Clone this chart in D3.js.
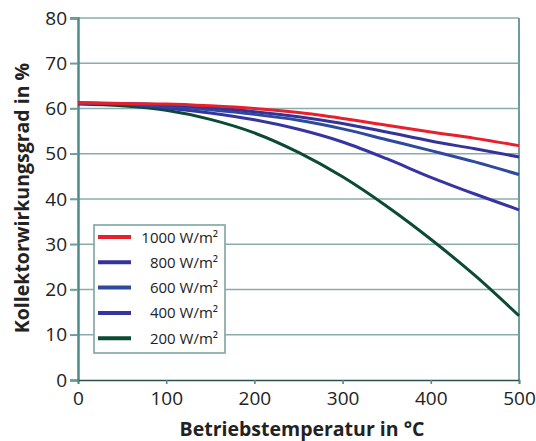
<!DOCTYPE html>
<html>
<head>
<meta charset="utf-8">
<script src="https://cdn.jsdelivr.net/npm/d3@7"></script>
<style>
  body { margin: 0; background: #fff; }
  svg text { font-family: "Open Sans", "Noto Sans", sans-serif; fill: #222; }
</style>
</head>
<body>
<svg id="chart" width="536" height="441"></svg>
<script>
// values, every 50 °C
var temps = [ 0, 50, 100, 150, 200, 250, 300, 350, 400, 450, 500 ];
var r1000 = [ 61.2, 61.1, 61.0, 60.6, 60.0, 59.1, 57.8, 56.3, 54.8, 53.4, 51.8 ];
var r800  = [ 61.2, 61.1, 60.8, 60.2, 59.3, 58.2, 56.7, 54.8, 52.8, 51.1, 49.3 ];
var r600  = [ 61.2, 61.0, 60.5, 59.7, 58.7, 57.4, 55.5, 53.1, 50.7, 48.2, 45.4 ];
var r400  = [ 61.2, 61.0, 60.1, 59.0, 57.5, 55.4, 52.6, 48.9, 44.8, 41.1, 37.6 ];
var r200  = [ 61.0, 60.6, 59.6, 57.6, 54.6, 50.3, 44.9, 38.4, 31.1, 23.1, 14.2 ];

var seriesNames = [ '1000 W/m²', '800 W/m²', '600 W/m²', '400 W/m²', '200 W/m²' ];
var seriesValues = [ r1000, r800, r600, r400, r200 ];
var seriesColors = [ '#e8202c', '#34339a', '#2d4a9e', '#3634a2', '#0b4a33' ];

var xTicks = [ 0, 100, 200, 300, 400, 500 ];
var yTicks = [ 0, 10, 20, 30, 40, 50, 60, 70, 80 ];

var svg = d3.select( '#chart' );

var x = d3.scaleLinear().domain( [ 0, 500 ] ).range( [ 78, 519 ] );
var y = d3.scaleLinear().domain( [ 0, 80 ] ).range( [ 380, 18 ] );

// gridlines
svg.append( 'g' )
    .selectAll( 'line' )
    .data( yTicks.filter( function( d ) { return d > 0; } ) )
    .enter().append( 'line' )
        .attr( 'x1', 70 )
        .attr( 'x2', x( 500 ) )
        .attr( 'y1', function( d ) { return y( d ); } )
        .attr( 'y2', function( d ) { return y( d ); } )
        .style( 'stroke', '#8aabab' )
        .style( 'stroke-width', 1.6 );

// right frame
svg.append( 'line' )
    .attr( 'x1', x( 500 ) ).attr( 'x2', x( 500 ) )
    .attr( 'y1', y( 80 ) ).attr( 'y2', y( 0 ) )
    .style( 'stroke', '#6f9c9c' )
    .style( 'stroke-width', 2 );

// left axis
var yAxis = svg.append( 'g' )
    .attr( 'transform', 'translate(' + x( 0 ) + ',0)' )
    .call( d3.axisLeft( y ).tickValues( yTicks ).tickSize( 8 ).tickPadding( 3 ) );
yAxis.select( '.domain' ).style( 'stroke', '#4f8a8a' ).style( 'stroke-width', 2.5 );
yAxis.selectAll( '.tick line' ).style( 'stroke', '#6f9c9c' ).style( 'stroke-width', 1.6 );
yAxis.selectAll( 'text' ).style( 'font-size', '19px' ).style( 'fill', '#222' );

// bottom axis
var xAxis = svg.append( 'g' )
    .attr( 'transform', 'translate(0,' + y( 0 ) + ')' )
    .call( d3.axisBottom( x ).tickValues( xTicks ).tickSize( 4 ).tickPadding( 8 ) );
xAxis.select( '.domain' ).style( 'stroke', '#2f4f4f' ).style( 'stroke-width', 1.6 );
xAxis.selectAll( '.tick line' ).style( 'stroke', '#4f8a8a' ).style( 'stroke-width', 1.6 );
xAxis.selectAll( 'text' ).style( 'font-size', '19px' ).style( 'fill', '#222' );

// curves
var line = d3.line()
    .x( function( d, i ) { return x( temps[ i ] ); } )
    .y( function( d ) { return y( d ); } )
    .curve( d3.curveMonotoneX );

svg.append( 'g' )
    .selectAll( 'path' )
    .data( seriesValues.slice().reverse() )
    .enter().append( 'path' )
        .attr( 'd', line )
        .style( 'fill', 'none' )
        .style( 'stroke', function( d, i ) { return seriesColors[ seriesColors.length - 1 - i ]; } )
        .style( 'stroke-width', 3 );

// legend
var legend = svg.append( 'g' );
legend.append( 'rect' )
    .attr( 'x', 94 ).attr( 'y', 225 )
    .attr( 'width', 131 ).attr( 'height', 128 )
    .style( 'fill', '#fff' )
    .style( 'stroke', '#7fa3a3' )
    .style( 'stroke-width', 1.6 );

var items = legend.selectAll( 'g.item' )
    .data( seriesNames )
    .enter().append( 'g' )
        .attr( 'class', 'item' )
        .attr( 'transform', function( d, i ) { return 'translate(0,' + ( 237 + i * 25.3 ) + ')'; } );

items.append( 'line' )
    .attr( 'x1', 98 ).attr( 'x2', 131 )
    .style( 'stroke', function( d, i ) { return seriesColors[ i ]; } )
    .style( 'stroke-width', 4 );

items.append( 'text' )
    .attr( 'x', 218 ).attr( 'y', 5.5 )
    .attr( 'text-anchor', 'end' )
    .style( 'font-size', '15px' )
    .text( function( d ) { return d; } );

// axis titles
svg.append( 'text' )
    .attr( 'x', 302 ).attr( 'y', 436 )
    .attr( 'text-anchor', 'middle' )
    .style( 'font-size', '19.5px' ).style( 'font-weight', 'bold' )
    .text( 'Betriebstemperatur in °C' );

svg.append( 'text' )
    .attr( 'transform', 'translate(29,198) rotate(-90)' )
    .attr( 'text-anchor', 'middle' )
    .style( 'font-size', '19.5px' ).style( 'font-weight', 'bold' )
    .text( 'Kollektorwirkungsgrad in %' );
</script>
</body>
</html>
